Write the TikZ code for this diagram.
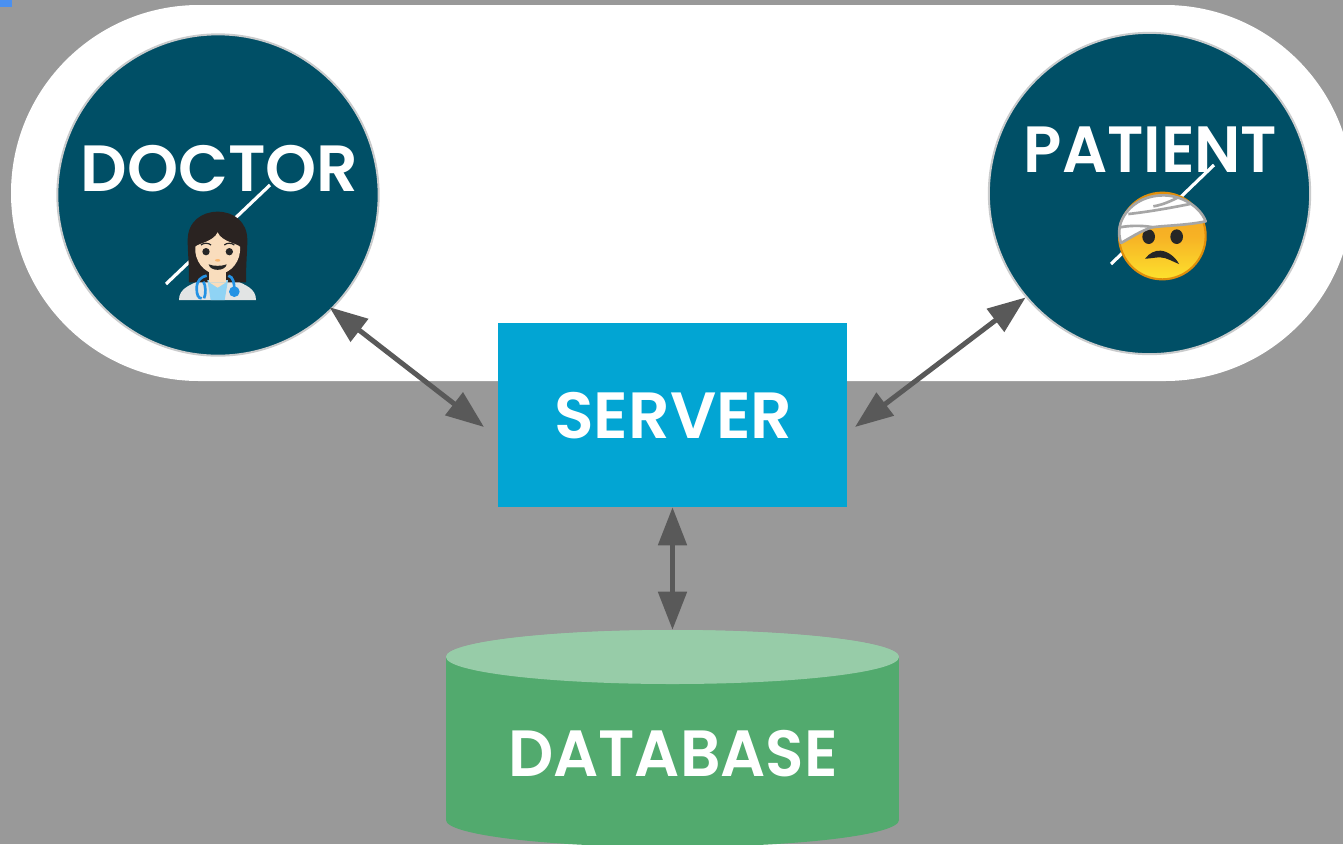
\documentclass[tikz,border=0pt]{standalone}
\usepackage{fontspec}
\usepackage{tikz}
\usetikzlibrary{arrows.meta,shapes.geometric}
\newfontfamily\labelfont[FakeStretch=0.965]{Poppins SemiBold}
\newfontfamily\widefont[FakeStretch=0.995]{Poppins SemiBold}
\definecolor{backgray}{HTML}{999999}
\definecolor{cornerblue}{HTML}{4A90F0}
\definecolor{teal}{HTML}{004F66}
\definecolor{rimgray}{HTML}{C9CBCC}
\definecolor{serverblue}{HTML}{02A5D3}
\definecolor{dbgreen}{HTML}{52AA6E}
\definecolor{dblight}{HTML}{97CCA8}
\definecolor{linkgray}{HTML}{595959}
\definecolor{hairdark}{HTML}{2A2321}
\definecolor{skin}{HTML}{F9DDBD}
\definecolor{coat}{HTML}{E2E4E4}
\definecolor{shirt}{HTML}{8FD3F4}
\definecolor{tube}{HTML}{2492E4}
\definecolor{faceink}{HTML}{262626}
\definecolor{faceorange}{HTML}{F5A623}
\definecolor{faceyellow}{HTML}{FDE12D}
\definecolor{facerim}{HTML}{E08E0B}
\definecolor{wrapgray}{HTML}{A6A6A6}

\begin{document}
\begin{tikzpicture}[x=0.75pt,y=-0.75pt,node distance={181.5pt},
        main/.style = {circle, fill=teal, draw=rimgray, line width=1.5pt, minimum size=241pt, inner sep=0pt},
        title/.style = {anchor=base, text=white, inner sep=0pt, font=\labelfont\fontsize{49}{49}\selectfont},
        widetitle/.style = {title, font=\widefont\fontsize{49}{49}\selectfont},
        slash/.style = {draw=white, line width=2.4pt},
        link/.style = {{Triangle[length=28.5pt,width=21pt]}-{Triangle[length=28.5pt,width=21pt]}, draw=linkgray, line width=3.75pt}]
        \useasboundingbox (0,0) rectangle (1343,844);
        \clip (0,0) rectangle (1343,844);
        \fill[backgray] (0,0) rectangle (1343,844);
        \fill[cornerblue] (0,0) rectangle (12,7);
        \node[fill=white, rounded corners=141pt, minimum width=1006.5pt, minimum height=282pt, inner sep=0pt] (room) at (682,193) {};
        \node[main] (doctor) at (218,195) {};
        \node[main] (patient) at (1149.5,193.5) {};
        \node[fill=serverblue, minimum width=261.75pt, minimum height=138pt, inner sep=0pt] (server) at (672.5,415) {};
        \node[ellipse, fill=dblight, minimum width=339.75pt, minimum height=40.5pt, inner sep=0pt] (dbtop) [below of=server] {};
        \node[ellipse, fill=dbgreen, minimum width=339.75pt, minimum height=40.5pt, inner sep=0pt] (dbbase) at (672.5,820) {};
        \fill[dbgreen] (dbtop.west) rectangle (dbbase.east);
        \node[ellipse, fill=dblight, minimum width=339.75pt, minimum height=40.5pt, inner sep=0pt] at (dbtop) {};
        \node[widetitle] (doctorlabel) at (219.5,191) {DOCTOR};
        \node[title] (patientlabel) at (1150.5,172) {PATIENT};
        \node[widetitle] (serverlabel) at (673.5,438) {SERVER};
        \node[title] (database) at (673,776) {DATABASE};
        \coordinate (slashd1) at (166,284);
        \coordinate (slashd2) at (270,185);
        \coordinate (slashp1) at (1111,264);
        \coordinate (slashp2) at (1214,165);
        \coordinate (serverleft) at (484,427);
        \coordinate (serverright) at (855,427);
        \draw[slash] (slashd1) -- (slashd2);
        \draw[slash] (slashp1) -- (slashp2);
        \draw[link, shorten <=-2.7pt] (doctor.-45.5) -- (serverleft);
        \draw[link] (patient.-140.8) -- (serverright);
        \draw[link] (server.south) -- (dbtop.north);
        \begin{scope}[shift={(170,205)},x=0.25pt,y=-0.25pt]
                \fill[coat] (27,285) .. controls (27,250) and (60,240) .. (92,225) -- (194,225) .. controls (226,240) and (258,250) .. (258,285) -- cycle;
                \fill[hairdark] (57,232) .. controls (57,170) and (53,140) .. (53,105) .. controls (53,50) and (95,20) .. (143,20) .. controls (191,20) and (232,50) .. (232,105) .. controls (232,140) and (228,170) .. (228,232) -- cycle;
                \fill[shirt] (112,225) -- (174,225) -- (164,285) -- (122,285) -- cycle;
                \fill[skin] (118,185) rectangle (168,232);
                \fill[skin] (118,232) -- (168,232) -- (143,248) -- cycle;
                \fill[skin] (76,125) .. controls (85,115) and (130,110) .. (143,82) .. controls (155,110) and (200,115) .. (210,125) .. controls (214,165) and (185,207) .. (143,207) .. controls (101,207) and (72,165) .. (76,125) -- cycle;
                \fill[faceink] (108,140) circle (11);
                \fill[faceink] (178,140) circle (11);
                \draw[faceink, line width=0.9pt] (93,120) .. controls (100,113) and (115,113) .. (123,120);
                \draw[faceink, line width=0.9pt] (163,120) .. controls (170,113) and (185,113) .. (193,120);
                \fill[orange!40!skin] (143,166) ellipse (8 and 4);
                \fill[faceink] (116,178) .. controls (130,184) and (156,184) .. (170,178) .. controls (166,200) and (120,200) .. (116,178) -- cycle;
                \draw[tube, line width=2pt] (110,212) .. controls (95,215) and (80,225) .. (80,250) .. controls (80,270) and (85,280) .. (95,280);
                \draw[tube, line width=2pt] (100,230) .. controls (108,240) and (108,270) .. (102,280);
                \draw[tube, line width=2pt] (175,212) .. controls (190,215) and (193,235) .. (193,255);
                \fill[tube] (193,260) circle (16);
        \end{scope}
        \begin{scope}[shift={(1110,188)},x=0.25pt,y=-0.25pt]
                \shade[top color=faceorange, bottom color=faceyellow, middle color=faceorange!80!faceyellow] (157,144) circle (130);
                \draw[facerim, line width=1.6pt] (157,144) circle (130);
                \fill[faceink] (116,146) ellipse (19 and 22);
                \fill[faceink] (200,146) ellipse (19 and 22);
                \fill[faceink] (105,212) .. controls (118,195) and (135,187) .. (152,188) .. controls (175,190) and (197,208) .. (207,228) .. controls (190,222) and (170,208) .. (150,208) .. controls (135,208) and (120,212) .. (105,212) -- cycle;
                \filldraw[fill=white, draw=wrapgray, line width=2pt, line join=round] (33,165) .. controls (22,130) and (28,100) .. (50,72) .. controls (75,40) and (115,22) .. (160,22) .. controls (215,22) and (270,55) .. (287,100) .. controls (230,112) and (170,112) .. (125,118) .. controls (90,130) and (60,150) .. (33,165) -- cycle;
                \draw[wrapgray, line width=2pt] (30,118) .. controls (60,112) and (100,112) .. (130,118);
                \draw[wrapgray, line width=2pt] (55,78) .. controls (110,72) and (170,62) .. (240,48);
                \draw[wrapgray, line width=2pt] (130,55) .. controls (160,50) and (180,40) .. (205,28);
        \end{scope}
\end{tikzpicture}
\end{document}
